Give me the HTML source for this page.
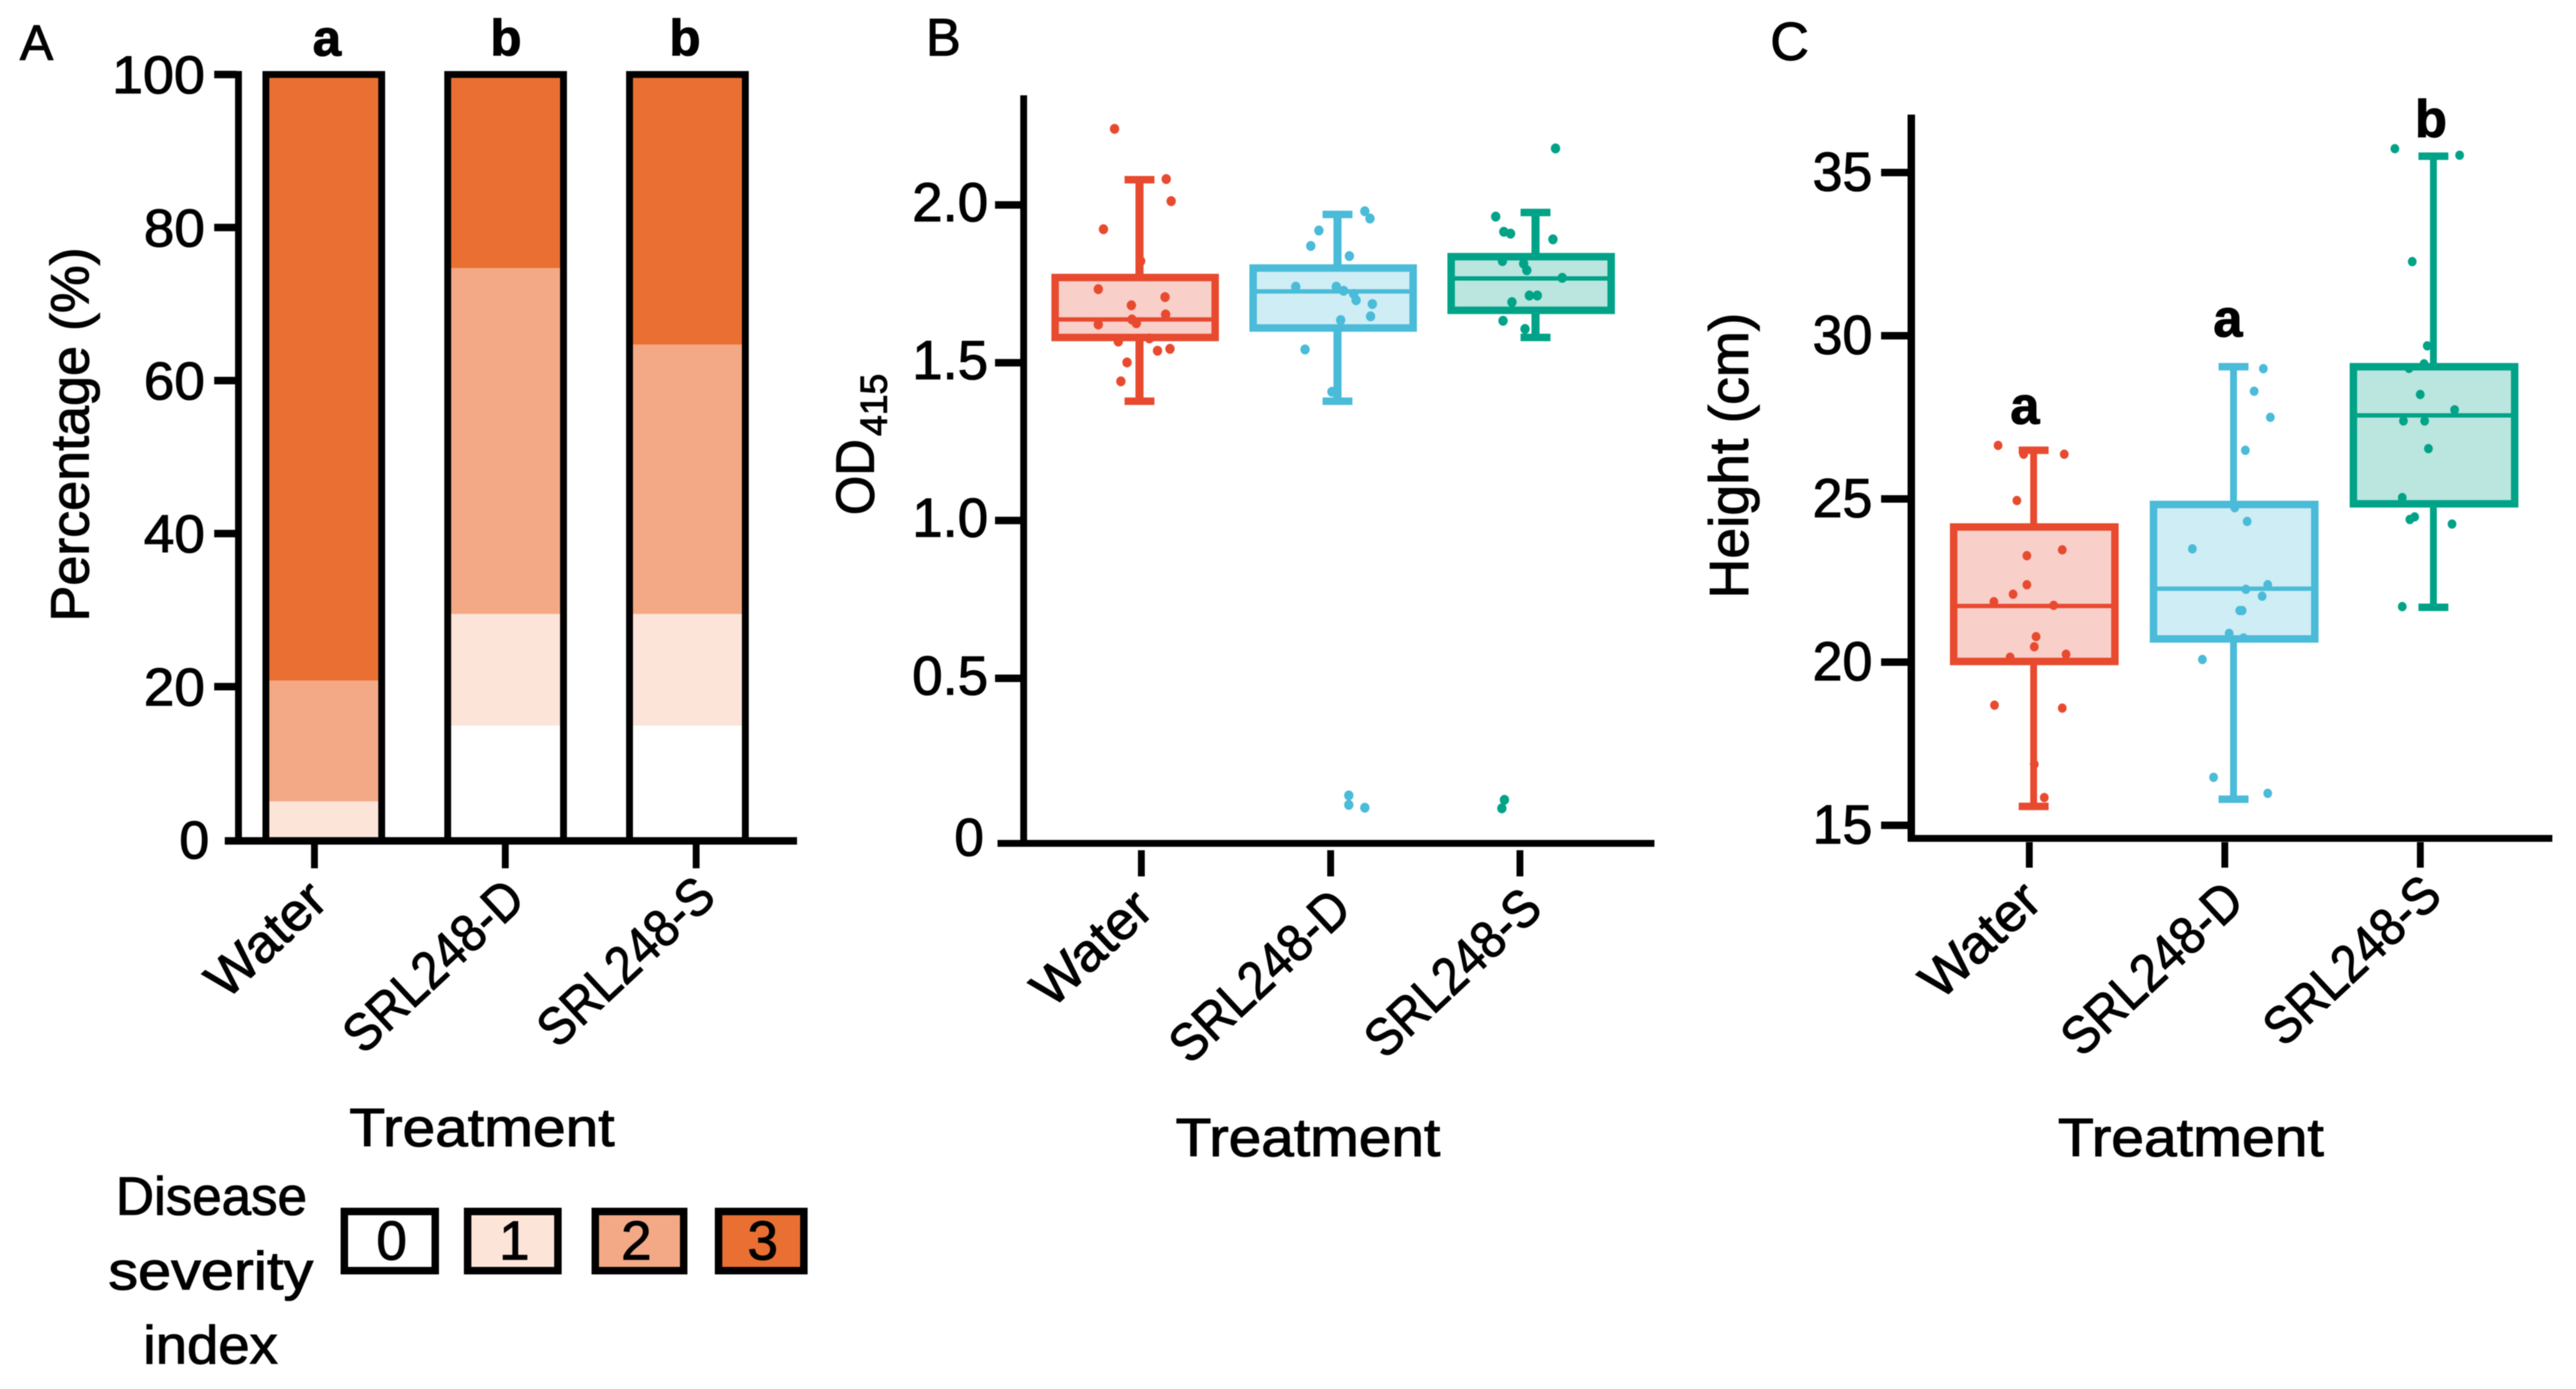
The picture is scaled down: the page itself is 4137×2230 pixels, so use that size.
<!DOCTYPE html>
<html lang="en">
<head>
<meta charset="utf-8">
<title>Disease severity, OD415 and height by treatment</title>
<style>
  html, body { margin: 0; padding: 0; background: #fff; width: 4137px; height: 2230px; overflow: hidden; }
  svg { display: block; filter: blur(0.9px); }
  text { font-family: "Liberation Sans", sans-serif; fill: #000; stroke: #000; stroke-width: 1.6px; }
</style>
</head>
<body>
<svg id="figure" xmlns="http://www.w3.org/2000/svg" width="4137" height="2230" viewBox="0 0 4137 2230">
  <rect x="0" y="0" width="4137" height="2230" fill="#fff"/>

  <text x="32" y="96" font-size="80">A</text>
  <text x="1487" y="89" font-size="84">B</text>
  <text x="2843" y="96" font-size="86">C</text>

  <text transform="translate(142,998) rotate(-90)" font-size="86" textLength="601" lengthAdjust="spacingAndGlyphs">Percentage (%)</text>
  <text transform="translate(1403,827) rotate(-90)" font-size="86" textLength="122" lengthAdjust="spacingAndGlyphs">OD</text>
  <text transform="translate(1424,700) rotate(-90)" font-size="60" textLength="100" lengthAdjust="spacingAndGlyphs">415</text>
  <text transform="translate(2807,961) rotate(-90)" font-size="88" textLength="459" lengthAdjust="spacingAndGlyphs">Height (cm)</text>

  <text x="561" y="1840" font-size="86" textLength="426" lengthAdjust="spacingAndGlyphs">Treatment</text>
  <text x="1888" y="1856" font-size="86" textLength="425" lengthAdjust="spacingAndGlyphs">Treatment</text>
  <text x="3305" y="1856" font-size="86" textLength="427" lengthAdjust="spacingAndGlyphs">Treatment</text>

  <g>
    <text x="186" y="1950" font-size="86" textLength="307" lengthAdjust="spacingAndGlyphs">Disease</text>
    <text x="174" y="2070" font-size="86" textLength="329" lengthAdjust="spacingAndGlyphs">severity</text>
    <text x="230" y="2189" font-size="86" textLength="216" lengthAdjust="spacingAndGlyphs">index</text>
    <rect x="553" y="1945" width="146" height="95" fill="#ffffff" stroke="#000" stroke-width="12"/>
    <rect x="751" y="1945" width="145" height="95" fill="#FCE4D8" stroke="#000" stroke-width="12"/>
    <rect x="956" y="1945" width="142" height="95" fill="#F3A985" stroke="#000" stroke-width="12"/>
    <rect x="1154" y="1945" width="137" height="95" fill="#E97032" stroke="#000" stroke-width="12"/>
    <text x="629" y="2022" font-size="88" text-anchor="middle">0</text>
    <text x="826" y="2022" font-size="88" text-anchor="middle">1</text>
    <text x="1022" y="2022" font-size="88" text-anchor="middle">2</text>
    <text x="1225" y="2022" font-size="88" text-anchor="middle">3</text>
  </g>

  <g id="panel-a"></g>
  <g id="panel-b"></g>
  <g id="panel-c"></g>
</svg>

<script>
// ---------- shared categories ----------
const treatments = ['Water', 'SRL248-D', 'SRL248-S'];

// ---------- panel A data ----------
const severity0 = [0, 14.9, 14.9];
const severity1 = [5, 14.6, 14.6];
const severity2 = [15.8, 45.2, 35.2];
const severity3 = [79.2, 25.3, 35.3];
const percentTicks = [0, 20, 40, 60, 80, 100];
const barLetters = ['a', 'b', 'b'];

// ---------- panel B data ----------
const odTicks = [0.5, 1.0, 1.5, 2.0];
const odTickLabels = ['0.5', '1.0', '1.5', '2.0'];
const odQ1 = [1.58, 1.61, 1.666];
const odMedian = [1.637, 1.726, 1.767];
const odQ3 = [1.77, 1.80, 1.836];
const odLow = [1.378, 1.378, 1.58];
const odHigh = [2.08, 1.97, 1.976];
const odWater = [2.241, 2.082, 2.012, 1.923, 1.822, 1.733, 1.708, 1.682, 1.653, 1.637, 1.621, 1.625, 1.567, 1.577, 1.538, 1.544, 1.501, 1.441];
const odWaterJitter = [-0.104, 0.157, 0.182, -0.160, 0.028, -0.186, 0.151, -0.019, 0.154, -0.016, -0.186, 0.006, -0.085, 0.072, 0.113, 0.176, -0.041, -0.072];
const odDried = [1.980, 1.957, 1.919, 1.870, 1.838, 1.741, 1.741, 1.728, 1.718, 1.698, 1.686, 1.647, 1.635, 1.542, 1.408, 0.129, 0.099, 0.090];
const odDriedJitter = [0.160, 0.186, -0.072, -0.113, 0.082, -0.189, 0.016, 0.053, 0.104, 0.116, 0.198, 0.189, 0.038, -0.142, -0.006, 0.079, 0.079, 0.160];
const odSpray = [2.179, 1.963, 1.915, 1.909, 1.891, 1.822, 1.814, 1.793, 1.769, 1.713, 1.713, 1.692, 1.633, 1.607, 0.115, 0.088];
const odSprayJitter = [0.123, -0.179, -0.138, -0.104, 0.110, -0.145, -0.038, -0.022, 0.157, -0.009, 0.031, -0.097, -0.142, -0.031, -0.135, -0.148];

// ---------- panel C data ----------
const heightTicks = [15, 20, 25, 30, 35];
const heightQ1 = [20.02, 20.71, 24.85];
const heightMedian = [21.72, 22.25, 27.56];
const heightQ3 = [24.14, 24.83, 29.05];
const heightLow = [15.58, 15.8, 21.68];
const heightHigh = [26.49, 29.05, 35.5];
const heightWater = [26.64, 26.37, 26.37, 24.95, 23.44, 23.26, 22.37, 22.08, 21.85, 21.74, 20.78, 20.47, 20.15, 20.24, 18.68, 18.59, 16.87, 15.85];
const heightWaterJitter = [-0.181, 0.150, -0.053, -0.087, 0.140, -0.037, -0.037, -0.106, -0.202, 0.097, 0.009, 0, -0.121, 0.159, -0.199, 0.140, 0, 0.050];
const heightDried = [28.99, 28.30, 27.5, 26.49, 24.73, 24.31, 23.47, 22.37, 22.23, 22.02, 21.58, 21.58, 20.88, 20.74, 20.08, 16.47, 15.98];
const heightDriedJitter = [0.146, 0.100, 0.181, 0.056, 0.003, 0.065, -0.209, 0.168, 0.059, 0.140, 0.028, 0.040, -0.025, 0.047, -0.159, -0.103, 0.168];
const heightSpray = [35.73, 35.53, 32.27, 29.69, 29.0, 29.14, 28.2, 27.73, 27.39, 27.39, 26.54, 25.04, 24.45, 24.37, 24.23, 21.7];
const heightSprayJitter = [-0.196, 0.128, -0.109, -0.034, -0.125, -0.050, -0.069, 0.103, -0.153, -0.047, -0.028, -0.159, -0.097, -0.121, 0.090, -0.159];
const heightLetters = ['a', 'a', 'b'];
const heightLetterValues = [27.31, 29.98, 36.09];

// ---------- colours ----------
const severityFills = ['#ffffff', '#FCE4D8', '#F3A985', '#E97032'];
const boxStrokes = ['#E84A2F', '#4ABBD8', '#00A387'];
const boxFills = ['#F9CFC9', '#CFEDF5', '#BBE5DF'];

// ---------- helpers ----------
const NS = 'http://www.w3.org/2000/svg';
function mk(parent, tag, attrs, content) {
  const node = document.createElementNS(NS, tag);
  for (const key in attrs) node.setAttribute(key, attrs[key]);
  if (content !== undefined) node.textContent = content;
  parent.appendChild(node);
  return node;
}
function line(parent, x1, y1, x2, y2, color, width) {
  return mk(parent, 'line', { x1: x1, y1: y1, x2: x2, y2: y2, stroke: color, 'stroke-width': width });
}
function linear(d0, d1, r0, r1) {
  return function (v) { return r0 + (v - d0) * (r1 - r0) / (d1 - d0); };
}

// ---------- panel A ----------
(function () {
  const g = document.getElementById('panel-a');
  const y = linear(0, 100, 1348, 119.6);
  const x = linear(0, 2, 520, 1104);
  const tickX = linear(0, 2, 505, 1118);
  const barWidth = 186;
  const layers = [severity0, severity1, severity2, severity3];

  treatments.forEach(function (name, i) {
    let base = 0;
    layers.forEach(function (layer, k) {
      const top = base + layer[i];
      const seg = mk(g, 'rect', { x: x(i) - barWidth / 2, y: y(top), width: barWidth, height: y(base) - y(top), fill: severityFills[k] });
      
      
      base = top;
    });
    const outline = mk(g, 'rect', { x: x(i) - barWidth / 2, y: y(base), width: barWidth, height: 1350 - y(base), fill: 'none', stroke: '#000', 'stroke-width': 11 });
    
    

    const letter = mk(g, 'text', { x: 525 + i * 287.5, y: 89, 'font-size': 82, 'font-weight': 'bold', 'text-anchor': 'middle' }, barLetters[i]);
    
    

    const tick = line(g, tickX(i), 1355, tickX(i), 1394, '#000', 11);
    
    
  });

  const axisY = line(g, 383, 114, 383, 1350, '#000', 11);
  
  
  const axisX = line(g, 361, 1350, 1280, 1350, '#000', 12);
  
  

  percentTicks.forEach(function (v) {
    if (v > 0) {
      const t = line(g, 344, y(v), 380, y(v), '#000', 12);
      
      
    }
    const lab = mk(g, 'text', { x: v === 0 ? 336 : 329, y: v === 0 ? 1378 : y(v) + 30, 'font-size': 85, 'text-anchor': 'end', textLength: v === 100 ? 149 : (v === 0 ? 48 : 98), lengthAdjust: 'spacingAndGlyphs' }, String(v));
    
    
  });

  const centres = [[426, 1507, 228], [695, 1550, 360], [1004, 1543, 352]];
  treatments.forEach(function (name, i) {
    const c = centres[i];
    const lab = mk(g, 'text', { transform: 'translate(' + c[0] + ',' + c[1] + ') rotate(-43)', y: 30, 'font-size': 85, 'text-anchor': 'middle', textLength: c[2], lengthAdjust: 'spacingAndGlyphs' }, name);
    
    
  });
})();

// ---------- box plot builder ----------
function drawBoxes(g, opts) {
  const y = opts.y, x = opts.x;
  treatments.forEach(function (name, i) {
    const key = name.toLowerCase();
    const wx = x(i) + opts.whiskerShift;
    const stroke = boxStrokes[i];

    const whiskerHigh = line(g, wx, y(opts.high[i]), wx, y(opts.q3[i]), stroke, opts.whiskerWidth);
    
    
    const whiskerLow = line(g, wx, y(opts.q1[i]), wx, y(opts.low[i]), stroke, opts.whiskerWidth);
    
    
    const capHigh = line(g, wx - 24, y(opts.high[i]), wx + 24, y(opts.high[i]), stroke, 12);
    
    
    const capLow = line(g, wx - 24, y(opts.low[i]), wx + 24, y(opts.low[i]), stroke, 12);
    
    

    const box = mk(g, 'rect', { x: x(i) - opts.boxWidth / 2, y: y(opts.q3[i]), width: opts.boxWidth, height: y(opts.q1[i]) - y(opts.q3[i]), fill: boxFills[i], stroke: stroke, 'stroke-width': 12 });
    
    
    const median = line(g, x(i) - opts.boxWidth / 2, y(opts.median[i]), x(i) + opts.boxWidth / 2, y(opts.median[i]), stroke, 7);
    
    

    opts.points[i].forEach(function (v, k) {
      const dot = mk(g, 'ellipse', { cx: x(i) + opts.jitter[i][k] * opts.step, cy: y(v), rx: opts.dotRadius, ry: opts.dotRadius + 0.5, fill: stroke });
      
      
    });
  });
}

// ---------- panel B ----------
(function () {
  const g = document.getElementById('panel-b');
  const y = linear(2, 0.5, 329, 1089);
  const x = linear(0, 2, 1823, 2459);
  const tickX = linear(0, 2, 1833, 2441);

  const axisY = line(g, 1644, 153, 1644, 1359, '#000', 11);
  
  
  const axisX = line(g, 1602, 1354, 2657, 1354, '#000', 11);
  
  

  odTicks.forEach(function (v, i) {
    const t = line(g, 1598, y(v), 1642, y(v), '#000', 12);
    
    
    const lab = mk(g, 'text', { x: 1587, y: y(v) + 26, 'font-size': 88, 'text-anchor': 'end', textLength: 122, lengthAdjust: 'spacingAndGlyphs' }, odTickLabels[i]);
    
    
  });
  const zero = mk(g, 'text', { x: 1580, y: y(0) + 31, 'font-size': 85, 'text-anchor': 'end' }, '0');
  
  

  treatments.forEach(function (name, i) {
    const t = line(g, tickX(i), 1365, tickX(i), 1407, '#000', 11);
    
    
  });

  drawBoxes(g, {
    x: x, y: y, step: 318, boxWidth: 257, whiskerShift: 7, whiskerWidth: 13, dotRadius: 7.5,
    q1: odQ1, median: odMedian, q3: odQ3, low: odLow, high: odHigh,
    points: [odWater, odDried, odSpray],
    jitter: [odWaterJitter, odDriedJitter, odSprayJitter]
  });

  const centres = [[1752, 1521, 228], [2022, 1566, 360], [2332, 1561, 350]];
  treatments.forEach(function (name, i) {
    const c = centres[i];
    const lab = mk(g, 'text', { transform: 'translate(' + c[0] + ',' + c[1] + ') rotate(-43)', y: 30, 'font-size': 85, 'text-anchor': 'middle', textLength: c[2], lengthAdjust: 'spacingAndGlyphs' }, name);
    
    
  });
})();

// ---------- panel C ----------
(function () {
  const g = document.getElementById('panel-c');
  const y = linear(35, 15, 277, 1325);
  const x = linear(0, 2, 3267, 3909);
  const tickX = linear(0, 2, 3259, 3887);

  const axisY = line(g, 3069.5, 184, 3069.5, 1351, '#000', 12);
  
  
  const axisX = line(g, 3064, 1346, 4099, 1346, '#000', 11);
  
  

  heightTicks.forEach(function (v) {
    const t = line(g, 3021, y(v), 3065, y(v), '#000', 12);
    
    
    const lab = mk(g, 'text', { x: 3007, y: y(v) + 29, 'font-size': 88, 'text-anchor': 'end', textLength: 96, lengthAdjust: 'spacingAndGlyphs' }, String(v));
    
    
  });

  treatments.forEach(function (name, i) {
    const t = line(g, tickX(i), 1352, tickX(i), 1393, '#000', 11);
    
    
  });

  drawBoxes(g, {
    x: x, y: y, step: 321, boxWidth: 259, whiskerShift: -1, whiskerWidth: 11, dotRadius: 7,
    q1: heightQ1, median: heightMedian, q3: heightQ3, low: heightLow, high: heightHigh,
    points: [heightWater, heightDried, heightSpray],
    jitter: [heightWaterJitter, heightDriedJitter, heightSprayJitter]
  });

  treatments.forEach(function (name, i) {
    const letter = mk(g, 'text', { x: x(i) - 15 + i * 5, y: y(heightLetterValues[i]), 'font-size': 84, 'font-weight': 'bold', 'text-anchor': 'middle' }, heightLetters[i]);
    
    
  });

  const centres = [[3179, 1508, 228], [3455, 1554, 362], [3776, 1541, 352]];
  treatments.forEach(function (name, i) {
    const c = centres[i];
    const lab = mk(g, 'text', { transform: 'translate(' + c[0] + ',' + c[1] + ') rotate(-43)', y: 30, 'font-size': 85, 'text-anchor': 'middle', textLength: c[2], lengthAdjust: 'spacingAndGlyphs' }, name);
    
    
  });
})();
</script>
</body>
</html>
